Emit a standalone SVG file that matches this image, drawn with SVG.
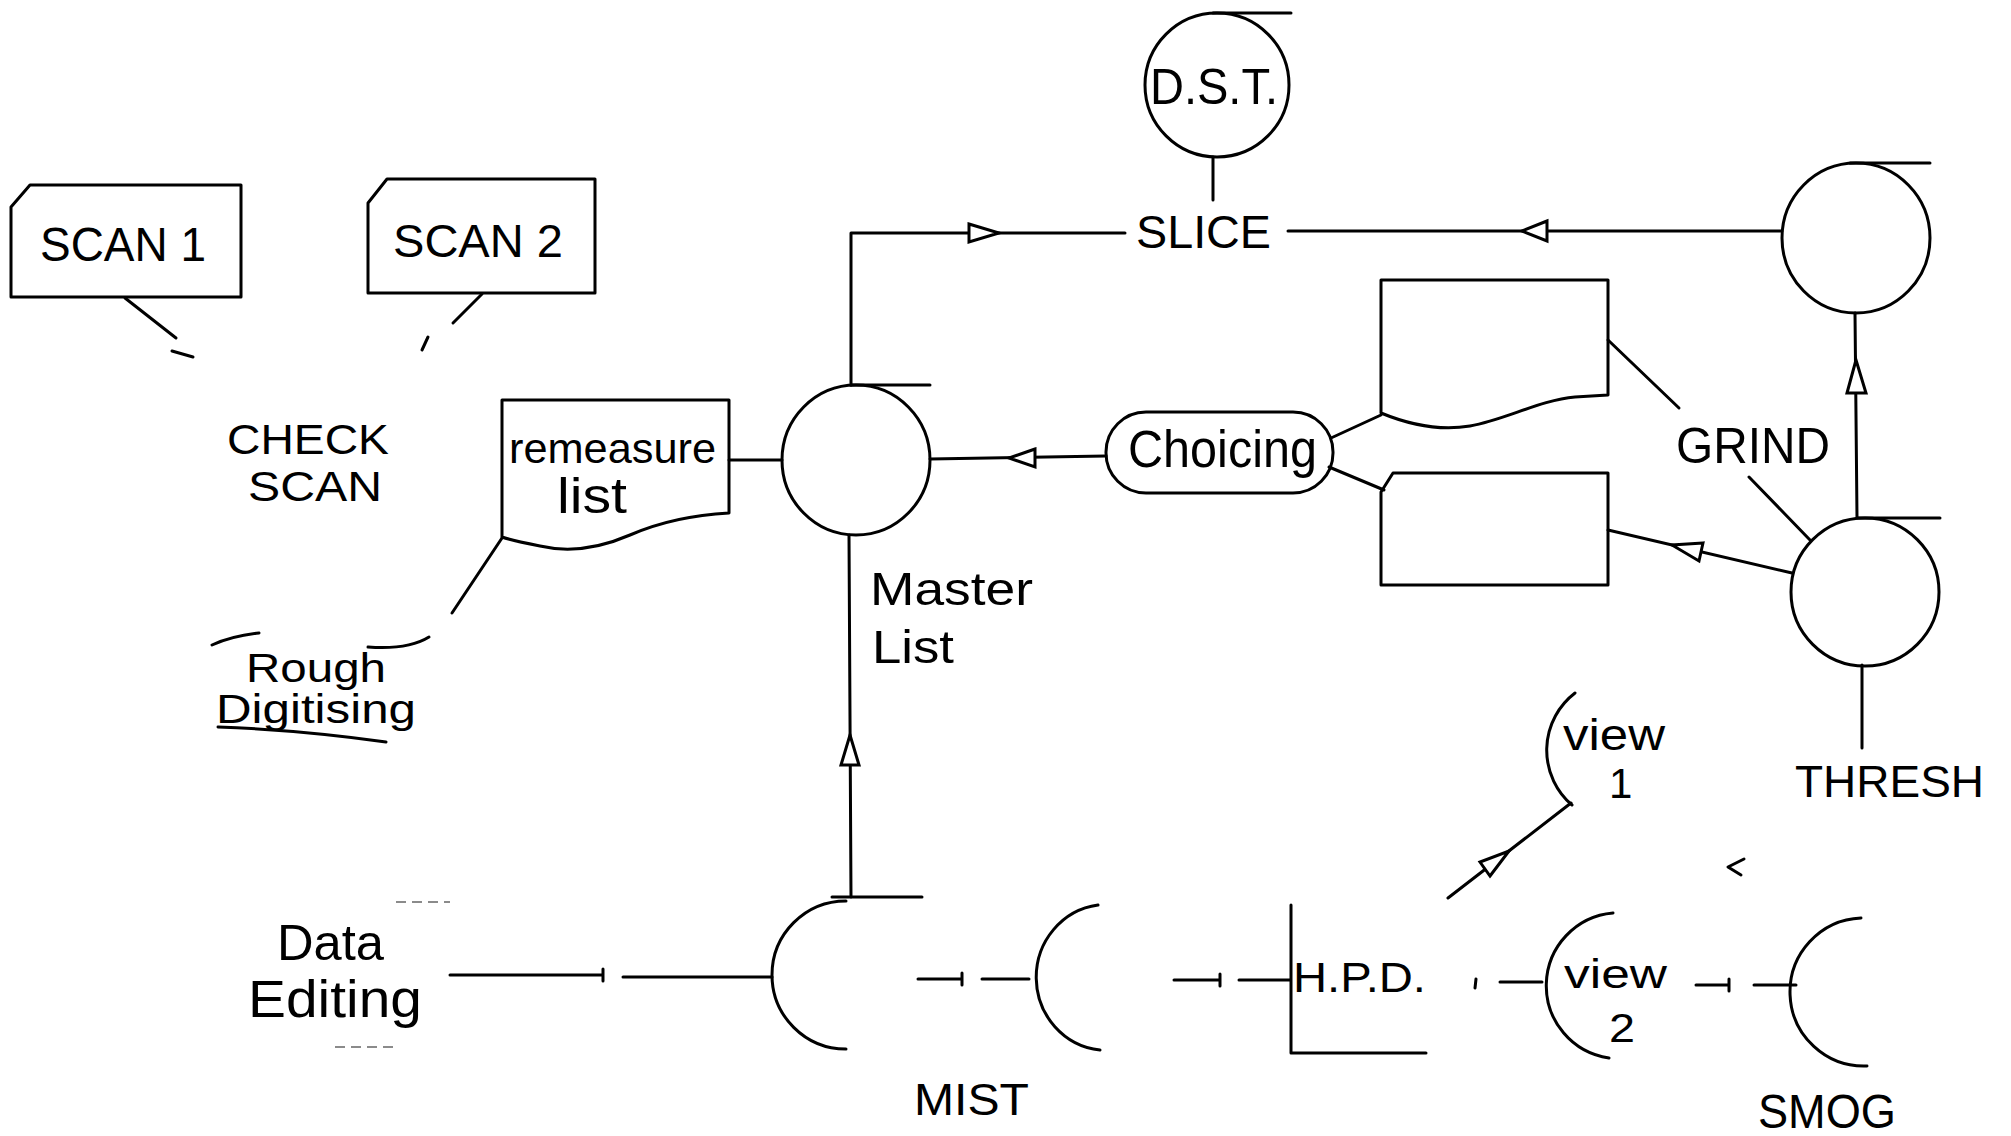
<svg xmlns="http://www.w3.org/2000/svg" width="2011" height="1136" viewBox="0 0 2011 1136">
<style>
.s{fill:none;stroke:#000;stroke-width:3;stroke-linecap:round;stroke-linejoin:round}
.a{fill:#fff;stroke:#000;stroke-width:3;stroke-linejoin:miter}
.t{font-family:"Liberation Sans",Arial,sans-serif;fill:#000}
.f{fill:none;stroke:#666;stroke-width:1.5;stroke-dasharray:10 6}
</style>
<rect width="2011" height="1136" fill="#fff"/>
<g id="connectors">
<path class="s" d="M125,298 L176,338 M172,351 L193,357"/>
<path class="s" d="M482,294 L453,323 M428,337 L422,350"/>
<path class="s" d="M502,538 L452,613"/>
<path class="s" d="M729,460 L782,460"/>
<path class="s" d="M851,385 L851,233 L1125,233"/>
<path class="s" d="M1213,157 L1213,200"/>
<path class="s" d="M1288,231 L1782,231"/>
<path class="s" d="M1857,518 L1855,313"/>
<path class="s" d="M1106,456 L930,459"/>
<path class="s" d="M1331,438 L1381,415"/>
<path class="s" d="M1329,467 L1384,490"/>
<path class="s" d="M1608,340 L1679,408"/>
<path class="s" d="M1749,477 L1810,540"/>
<path class="s" d="M1792,573 L1608,530"/>
<path class="s" d="M1862,665 L1862,748"/>
<path class="s" d="M851,897 L849,535"/>
<path class="s" d="M450,975 L603,975 M603,969 L603,981 M623,977 L772,977"/>
<path class="s" d="M918,979 L962,979 M962,973 L962,985 M982,979 L1029,979"/>
<path class="s" d="M1174,980 L1220,980 M1220,974 L1220,986 M1239,980 L1290,980"/>
<path class="s" d="M1476,979 L1475,988 M1500,982 L1542,982"/>
<path class="s" d="M1696,985 L1729,985 M1729,979 L1729,991 M1754,985 L1796,985"/>
<path class="s" d="M1448,898 L1571,803"/>
<polygon class="a" points="969,224 999,233 969,242"/>
<polygon class="a" points="1547,221 1522,231 1547,241"/>
<polygon class="a" points="1847,393 1856,360 1866,393"/>
<polygon class="a" points="1035,449 1009,458 1035,467"/>
<polygon class="a" points="1703,543 1672,545 1699,561"/>
<polygon class="a" points="841,765 850,735 859,765"/>
<polygon class="a" points="1490,876 1509,851 1480,862"/>
</g>
<g id="scan1">
<path class="s" d="M30,185 H241 V297 H11 V207 Z"/>
<text class="t" x="40" y="261" font-size="48" textLength="166" lengthAdjust="spacingAndGlyphs">SCAN 1</text>
</g>
<g id="scan2">
<path class="s" d="M387,179 H595 V293 H368 V203 Z"/>
<text class="t" x="393" y="257" font-size="47" textLength="170" lengthAdjust="spacingAndGlyphs">SCAN 2</text>
</g>
<g id="check-scan">
<text class="t" x="227" y="454" font-size="42" textLength="162" lengthAdjust="spacingAndGlyphs">CHECK</text>
<text class="t" x="248" y="501" font-size="42" textLength="134" lengthAdjust="spacingAndGlyphs">SCAN</text>
</g>
<g id="remeasure-list">
<path class="s" d="M502,400 H729 V513 C690,515 660,522 630,535 C600,548 570,553 540,546 C520,542 510,540 502,537 Z"/>
<text class="t" x="509" y="463" font-size="42" textLength="207" lengthAdjust="spacingAndGlyphs">remeasure</text>
<text class="t" x="557" y="513" font-size="50" textLength="70" lengthAdjust="spacingAndGlyphs">list</text>
</g>
<g id="rough-digitising">
<path class="s" d="M212,645 Q232,636 259,633" stroke-width="2"/>
<path class="s" d="M368,647 Q408,650 429,637" stroke-width="2"/>
<path class="s" d="M218,727 Q300,730 386,742" stroke-width="2"/>
<text class="t" x="246" y="682" font-size="40" textLength="140" lengthAdjust="spacingAndGlyphs">Rough</text>
<text class="t" x="216" y="723" font-size="40" textLength="200" lengthAdjust="spacingAndGlyphs">Digitising</text>
</g>
<g id="master-list">
<ellipse class="s" cx="856" cy="460" rx="74" ry="75"/>
<path class="s" d="M851,385 L930,385"/>
<text class="t" x="870" y="605" font-size="46" textLength="163" lengthAdjust="spacingAndGlyphs">Master</text>
<text class="t" x="872" y="663" font-size="46" textLength="82" lengthAdjust="spacingAndGlyphs">List</text>
</g>
<g id="slice">
<text class="t" x="1136" y="248" font-size="47" textLength="135" lengthAdjust="spacingAndGlyphs">SLICE</text>
</g>
<g id="dst">
<ellipse class="s" cx="1217" cy="85" rx="72" ry="72"/>
<path class="s" d="M1213,13 L1291,13"/>
<text class="t" x="1150" y="104" font-size="50" textLength="128" lengthAdjust="spacingAndGlyphs">D.S.T.</text>
</g>
<g id="top-right-store">
<ellipse class="s" cx="1856" cy="238" rx="74" ry="75"/>
<path class="s" d="M1850,163 L1930,163"/>
</g>
<g id="choicing">
<rect class="s" x="1106" y="412" width="227" height="81" rx="40" ry="40"/>
<text class="t" x="1128" y="467" font-size="51" textLength="189" lengthAdjust="spacingAndGlyphs">Choicing</text>
</g>
<g id="upper-document">
<path class="s" d="M1381,280 H1608 V395 L1575,397 C1540,400 1505,420 1470,426 C1440,431 1410,425 1381,413 Z"/>
</g>
<g id="lower-box">
<path class="s" d="M1393,473 H1608 V585 H1381 V492 Z"/>
</g>
<g id="grind">
<text class="t" x="1676" y="463" font-size="50" textLength="154" lengthAdjust="spacingAndGlyphs">GRIND</text>
</g>
<g id="thresh">
<ellipse class="s" cx="1865" cy="592" rx="74" ry="74"/>
<path class="s" d="M1858,518 L1940,518"/>
<text class="t" x="1795" y="797" font-size="45" textLength="189" lengthAdjust="spacingAndGlyphs">THRESH</text>
</g>
<g id="data-editing">
<path class="f" d="M396,902 L450,902"/>
<path class="f" d="M335,1047 L399,1047"/>
<text class="t" x="277" y="960" font-size="50" textLength="107" lengthAdjust="spacingAndGlyphs">Data</text>
<text class="t" x="248" y="1017" font-size="51" textLength="174" lengthAdjust="spacingAndGlyphs">Editing</text>
</g>
<g id="mist">
<path class="s" d="M846,901 A74,74 0 0 0 846,1049"/>
<path class="s" d="M832,897 L922,897"/>
<text class="t" x="914" y="1115" font-size="45" textLength="115" lengthAdjust="spacingAndGlyphs">MIST</text>
</g>
<g id="mist-2">
<path class="s" d="M1098,905 A71,73 0 0 0 1100,1050"/>
</g>
<g id="hpd">
<path class="s" d="M1291,905 L1291,1053 L1426,1053"/>
<text class="t" x="1293" y="992" font-size="42" textLength="133" lengthAdjust="spacingAndGlyphs">H.P.D.</text>
</g>
<g id="view1">
<path class="s" d="M1575,693 A72,72 0 0 0 1572,805"/>
<text class="t" x="1563" y="750" font-size="44" textLength="102" lengthAdjust="spacingAndGlyphs">view</text>
<text class="t" x="1609" y="798" font-size="42">1</text>
</g>
<g id="view2">
<path class="s" d="M1613,913 A73,73 0 0 0 1609,1058"/>
<text class="t" x="1564" y="988" font-size="40" textLength="103" lengthAdjust="spacingAndGlyphs">view</text>
<text class="t" x="1609" y="1042" font-size="40" textLength="26" lengthAdjust="spacingAndGlyphs">2</text>
</g>
<g id="smog">
<path class="s" d="M1861,918 A74,74 0 0 0 1867,1066"/>
<text class="t" x="1758" y="1128" font-size="48" textLength="138" lengthAdjust="spacingAndGlyphs">SMOG</text>
</g>
<path class="s" d="M1744,859 L1728,867 L1741,875" stroke-width="2"/>
</svg>
